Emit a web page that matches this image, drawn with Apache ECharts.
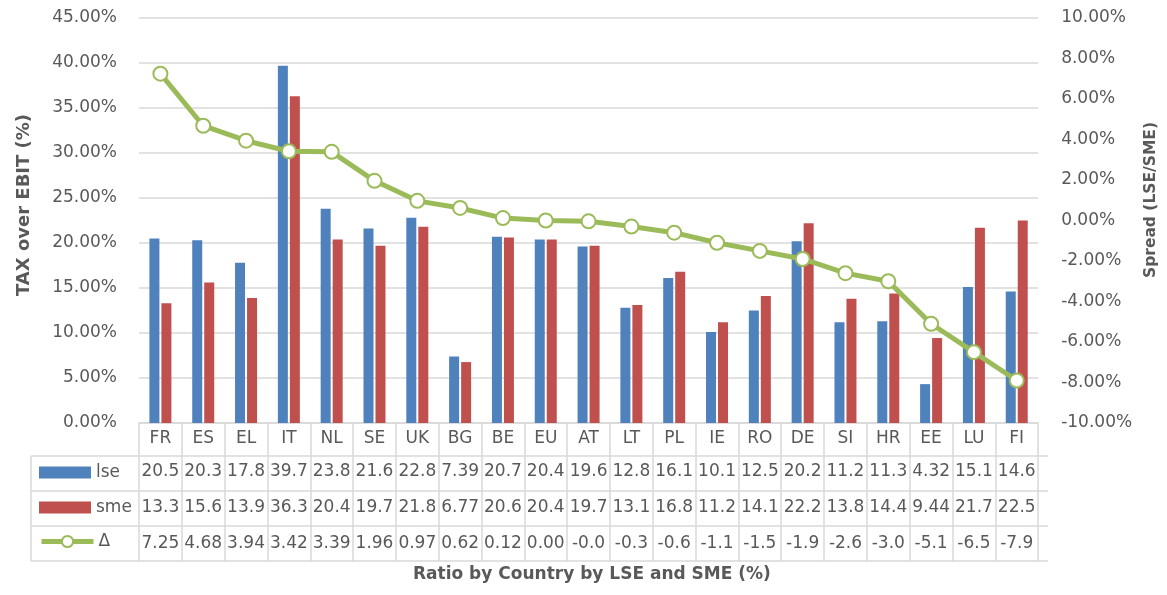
<!DOCTYPE html>
<html>
<head>
<meta charset="utf-8">
<script src="https://cdn.jsdelivr.net/npm/echarts@6/dist/echarts.min.js"></script>
<style>
html,body{margin:0;padding:0;background:#fff;}
#main{width:1167px;height:595px;}
</style>
</head>
<body>
<div id="main"></div>
<script>
// 数据
var countries = ['FR','ES','EL','IT','NL','SE','UK','BG','BE','EU','AT','LT','PL','IE','RO','DE','SI','HR','EE','LU','FI'];
var lse = [20.5,20.3,17.8,39.7,23.8,21.6,22.8,7.39,20.7,20.4,19.6,12.8,16.1,10.1,12.5,20.2,11.2,11.3,4.32,15.1,14.6];
var sme = [13.3,15.6,13.9,36.3,20.4,19.7,21.8,6.77,20.6,20.4,19.7,13.1,16.8,11.2,14.1,22.2,13.8,14.4,9.44,21.7,22.5];
var delta = [7.25,4.68,3.94,3.42,3.39,1.96,0.97,0.62,0.12,0.00,-0.04,-0.3,-0.6,-1.1,-1.5,-1.9,-2.6,-3.0,-5.1,-6.5,-7.9];

var blue = '#4f81bd', red = '#c0504d', green = '#9bbb59';
var txt = '#595959', border = '#d9d9d9';
var font = 'DejaVu Sans';

// 表格位置
var gridL = 139, gridR = 1048, axisY = 423;
var rowY = [456, 491, 526, 561];
var tableL = 31;

var myChart = echarts.init(document.getElementById('main'));

function fmtDelta(v){
    return v >= 0 ? v.toFixed(2) : v.toFixed(1);
}

function rowAxis(values, margin, fmt){
    return {
        type: 'category',
        data: countries,
        position: 'bottom',
        axisLine: {show: false},
        axisTick: {show: false},
        splitLine: {show: false},
        axisLabel: {
            interval: 0,
            margin: margin,
            verticalAlign: 'middle',
            color: txt,
            fontFamily: font,
            fontSize: 17,
            formatter: function(v, i){ return fmt ? fmt(values[i]) : String(values[i]); }
        }
    };
}

var lines = [];
for (var i = 0; i < rowY.length; i++) {
    lines.push({type: 'line', shape: {x1: tableL, y1: rowY[i], x2: gridR, y2: rowY[i]}, style: {stroke: border, lineWidth: 1.5}});
}
lines.push({type: 'line', shape: {x1: tableL, y1: rowY[0], x2: tableL, y2: rowY[3]}, style: {stroke: border, lineWidth: 1.5}});

function legendAt(name, icon, top, h){
    return {
        data: [{name: name, icon: icon}],
        left: 39,
        top: top,
        itemWidth: 52,
        itemHeight: h,
        itemGap: 0,
        padding: 0,
        lineStyle: {width: 5},
        textStyle: {color: txt, fontFamily: font, fontSize: 17}
    };
}

option = {
    animation: false,
    backgroundColor: '#fff',
    title: {
        text: 'Ratio by Country by LSE and SME (%)',
        left: 413,
        top: 566,
        padding: 0,
        textStyle: {color: txt, fontFamily: font, fontSize: 17, fontWeight: 'bold'}
    },
    legend: [
        legendAt('lse', 'rect', 464, 12),
        legendAt('sme', 'rect', 499, 12),
        legendAt('Δ', null, 533, 14)
    ],
    grid: {
        left: gridL,
        right: 1167 - gridR,
        top: 18,
        bottom: 595 - axisY
    },
    xAxis: [
        {
            type: 'category',
            data: countries,
            axisLine: {lineStyle: {color: border, width: 1.5}},
            axisTick: {show: true, interval: 0, length: rowY[3] - axisY, lineStyle: {color: border, width: 1.5}},
            axisLabel: {interval: 0, margin: 16, verticalAlign: 'middle', color: txt, fontFamily: font, fontSize: 17},
            splitLine: {show: false}
        },
        rowAxis(lse, 49),
        rowAxis(sme, 85),
        rowAxis(delta, 121, fmtDelta)
    ],
    yAxis: [
        {
            type: 'value',
            min: 0,
            max: 45,
            interval: 5,
            name: 'TAX over EBIT (%)',
            nameLocation: 'middle',
            nameRotate: 90,
            nameGap: 106,
            nameTextStyle: {color: txt, fontFamily: font, fontSize: 18, fontWeight: 'bold', padding: [0, 0, 0, 31]},
            axisLine: {show: false},
            axisTick: {show: false},
            axisLabel: {margin: 22, color: txt, fontFamily: font, fontSize: 17, formatter: function(v){ return v.toFixed(2) + '%'; }},
            splitLine: {lineStyle: {color: border, width: 1.5}}
        },
        {
            type: 'value',
            min: -10,
            max: 10,
            interval: 2,
            name: 'Spread (LSE/SME)',
            nameLocation: 'middle',
            nameRotate: 90,
            nameGap: 90,
            nameTextStyle: {color: txt, fontFamily: font, fontSize: 15.5, fontWeight: 'bold', padding: [0, 0, 0, 41]},
            axisLine: {show: false},
            axisTick: {show: false},
            axisLabel: {margin: 23, color: txt, fontFamily: font, fontSize: 17, formatter: function(v){ return v.toFixed(2) + '%'; }},
            splitLine: {show: false}
        }
    ],
    series: [
        {
            name: 'lse',
            type: 'bar',
            data: lse,
            barWidth: 10,
            barGap: '20%',
            itemStyle: {color: blue}
        },
        {
            name: 'sme',
            type: 'bar',
            data: sme,
            barWidth: 10,
            itemStyle: {color: red}
        },
        {
            name: 'Δ',
            type: 'line',
            yAxisIndex: 1,
            data: delta,
            symbol: 'circle',
            symbolSize: 14,
            z: 5,
            lineStyle: {color: green, width: 5},
            itemStyle: {color: '#fff', borderColor: green, borderWidth: 2}
        }
    ],
    graphic: lines
};

myChart.setOption(option, true);
</script>
</body>
</html>
